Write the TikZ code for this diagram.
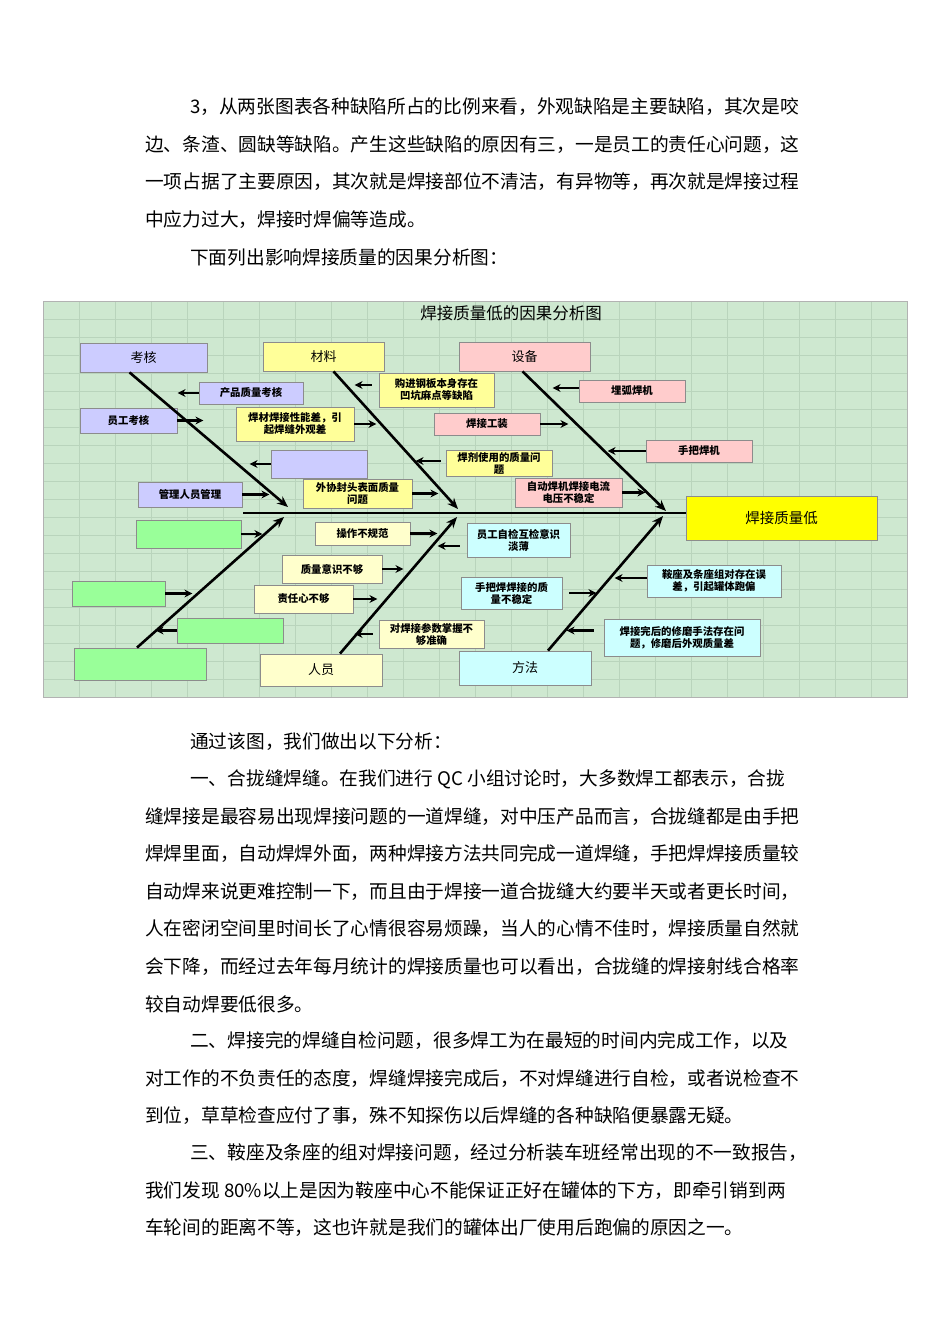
\documentclass[tikz,border=0pt]{standalone}
\usepackage{fontspec}
\setmainfont{Noto Sans CJK SC}
\usetikzlibrary{arrows.meta}
\definecolor{bgg}{RGB}{206,232,208}
\definecolor{gridg}{RGB}{185,212,188}
\definecolor{lav}{RGB}{204,204,255}
\definecolor{yel}{RGB}{255,255,153}
\definecolor{pnk}{RGB}{255,204,204}
\definecolor{lyel}{RGB}{255,255,204}
\definecolor{cya}{RGB}{204,255,255}
\definecolor{grn}{RGB}{153,255,153}
\definecolor{yy}{RGB}{255,255,0}
\newcommand\catf{\mdseries\fontsize{13}{14}\selectfont}
\newcommand\mybox[7]{\node[bx,fill=#6,minimum width={#3-#1},minimum height={#4-#2}] (#5) at ({(#1+#3)/2},{(#2+#4)/2}) {#7};}
\begin{document}
\begin{tikzpicture}[x=1pt,y=-1pt,
  para/.style={anchor=west,inner sep=0pt,font=\fontsize{18.7}{18}\selectfont},
  bx/.style={draw=black!45,line width=0.8pt,inner sep=1pt,align=center,font=\bfseries\fontsize{10.4}{12}\selectfont},
  bone/.style={line width=2.6pt,-{Stealth[length=11pt,width=9pt]}},
  arr/.style={line width=2.4pt,-{Stealth[length=8pt,width=8pt]}}]
\useasboundingbox[fill=white] (0,0) rectangle (950,1344);
% paragraphs
\node[para] (t1) at (190,107) {3，从两张图表各种缺陷所占的比例来看，外观缺陷是主要缺陷，其次是咬};
\node[para] (t2) at (145,145) {边、条渣、圆缺等缺陷。产生这些缺陷的原因有三，一是员工的责任心问题，这};
\node[para] (t3) at (145,182) {一项占据了主要原因，其次就是焊接部位不清洁，有异物等，再次就是焊接过程};
\node[para] (t4) at (145,220) {中应力过大，焊接时焊偏等造成。};
\node[para] (t5) at (190,257) {下面列出影响焊接质量的因果分析图：};
\node[para] (u1) at (190,742) {通过该图，我们做出以下分析：};
\node[para] (u2) at (190,779) {一、合拢缝焊缝。在我们进行 QC 小组讨论时，大多数焊工都表示，合拢};
\node[para] (u3) at (145,817) {缝焊接是最容易出现焊接问题的一道焊缝，对中压产品而言，合拢缝都是由手把};
\node[para] (u4) at (145,854) {焊焊里面，自动焊焊外面，两种焊接方法共同完成一道焊缝，手把焊焊接质量较};
\node[para] (u5) at (145,892) {自动焊来说更难控制一下，而且由于焊接一道合拢缝大约要半天或者更长时间，};
\node[para] (u6) at (145,929) {人在密闭空间里时间长了心情很容易烦躁，当人的心情不佳时，焊接质量自然就};
\node[para] (u7) at (145,967) {会下降，而经过去年每月统计的焊接质量也可以看出，合拢缝的焊接射线合格率};
\node[para] (u8) at (145,1004) {较自动焊要低很多。};
\node[para] (v1) at (190,1041) {二、焊接完的焊缝自检问题，很多焊工为在最短的时间内完成工作，以及};
\node[para] (v2) at (145,1079) {对工作的不负责任的态度，焊缝焊接完成后，不对焊缝进行自检，或者说检查不};
\node[para] (v3) at (145,1116) {到位，草草检查应付了事，殊不知探伤以后焊缝的各种缺陷便暴露无疑。};
\node[para] (w1) at (190,1153) {三、鞍座及条座的组对焊接问题，经过分析装车班经常出现的不一致报告，};
\node[para] (w2) at (145,1191) {我们发现 80\%以上是因为鞍座中心不能保证正好在罐体的下方，即牵引销到两};
\node[para] (w3) at (145,1228) {车轮间的距离不等，这也许就是我们的罐体出厂使用后跑偏的原因之一。};
% diagram background
\fill[bgg] (43,301) rectangle (907,697);
\foreach \gx in {79,115,...,907} \draw[gridg,line width=0.6pt] (\gx,301) -- (\gx,697);
\foreach \gy in {319,337,...,697} \draw[gridg,line width=0.6pt] (43,\gy) -- (907,\gy);
\draw[black!30] (43,301) rectangle (907,697);
\node[font=\fontsize{16.5}{18}\selectfont] (title) at (511,313) {焊接质量低的因果分析图};
% boxes
\mybox{80}{343}{207}{372}{kh}{lav}{\catf 考核}
\mybox{263}{342}{384}{371}{cl}{yel}{\catf 材料}
\mybox{459}{342}{590}{371}{sb}{pnk}{\catf 设备}
\mybox{199}{382}{303}{404}{pz}{lav}{产品质量考核}
\mybox{80}{408}{177}{433}{yg}{lav}{员工考核}
\mybox{379}{373}{494}{407}{gj}{yel}{购进钢板本身存在\\凹坑麻点等缺陷}
\mybox{236}{407}{354}{441}{hc}{yel}{焊材焊接性能差，引\\起焊缝外观差}
\mybox{434}{413}{540}{435}{gz}{pnk}{焊接工装}
\mybox{579}{380}{685}{402}{mh}{pnk}{埋弧焊机}
\mybox{271}{450}{367}{478}{e1}{lav}{}
\mybox{446}{450}{552}{476}{hj}{yel}{焊剂使用的质量问\\题}
\mybox{646}{440}{752}{462}{sh}{pnk}{手把焊机}
\mybox{138}{482}{242}{507}{gl}{lav}{管理人员管理}
\mybox{303}{479}{412}{508}{wx}{yel}{外协封头表面质量\\问题}
\mybox{515}{478}{622}{507}{zd}{pnk}{自动焊机焊接电流\\电压不稳定}
\node[bx,fill=yy,minimum width=191,minimum height=44,font=\fontsize{14.5}{16}\selectfont] (hd) at (781.5,518) {焊接质量低};
\mybox{136}{520}{241}{548}{g1}{grn}{}
\mybox{315}{522}{410}{545}{cz}{lyel}{操作不规范}
\mybox{467}{523}{570}{557}{zj}{cya}{员工自检互检意识\\淡薄}
\mybox{282}{555}{382}{583}{zl}{lyel}{质量意识不够}
\mybox{72}{581}{165}{606}{g2}{grn}{}
\mybox{254}{585}{353}{613}{zr}{lyel}{责任心不够}
\mybox{461}{577}{562}{609}{sb2}{cya}{手把焊焊接的质\\量不稳定}
\mybox{647}{565}{781}{597}{az}{cya}{鞍座及条座组对存在误\\差，引起罐体跑偏}
\mybox{177}{618}{283}{643}{g3}{grn}{}
\mybox{379}{620}{484}{648}{dh}{lyel}{对焊接参数掌握不\\够准确}
\mybox{604}{619}{760}{656}{xm}{cya}{焊接完后的修磨手法存在问\\题，修磨后外观质量差}
\mybox{74}{648}{206}{680}{g4}{grn}{}
\mybox{260}{654}{382}{686}{ry}{lyel}{\catf 人员}
\mybox{459}{651}{591}{685}{ff}{cya}{\catf 方法}
% spine and bones
\coordinate (s0) at (243,513);
\draw[line width=2.6pt] (s0) -- (hd.west |- s0);
\coordinate (b1) at (288,507); \coordinate (b2) at (458,509); \coordinate (b3) at (666,511);
\coordinate (c1) at (284,517); \coordinate (c2) at (457,517); \coordinate (c3) at (663,516);
\draw[bone] (kh.south) ++(-14,0) -- (b1);
\draw[bone] (cl.south) ++(10,0) -- (b2);
\draw[bone] (sb.south) ++(-2,0) -- (b3);
\draw[bone] (g4.north) ++(-3,0) -- (c1);
\draw[bone] (ry.north) ++(19,0) -- (c2);
\draw[bone] (ff.north) ++(23,0) -- (c3);
% small arrows
\draw[arr] (pz.west) -- ++(-21,0);
\draw[arr] (yg.east) -- ++(26,0);
\draw[arr] (e1.west) -- ++(-21,0);
\draw[arr] (gl.east) -- ++(27,0);
\draw[arr] (g1.east) -- ++(21,0);
\draw[arr] (g2.east) -- ++(27,0);
\draw[arr] (g3.west) -- ++(-21,0);
\draw[arr] (gj.west) ++(-7,-5) -- ++(-17,0);
\draw[arr] (hc.east) -- ++(22,0);
\draw[arr] (hj.west) ++(-5,-2) -- ++(-25,0);
\draw[arr] (wx.east) -- ++(26,0);
\draw[arr] (cz.east) -- ++(27,0);
\draw[arr] (zl.east) -- ++(21,0);
\draw[arr] (zr.east) -- ++(24,0);
\draw[arr] (dh.west) ++(-6,0) -- ++(-18,0);
\draw[arr] (zj.west) ++(-7,6) -- ++(-22,0);
\draw[arr] (mh.west) ++(0,-3) -- ++(-26,0);
\draw[arr] (gz.east) -- ++(28,0);
\draw[arr] (sh.west) -- ++(-38,0);
\draw[arr] (zd.east) -- ++(23,0);
\draw[arr] (sb2.east) ++(7,0) -- ++(27,0);
\draw[arr] (az.west) ++(0,-3) -- ++(-32,0);
\draw[arr] (xm.west) ++(-10,-7) -- ++(-27,0);
\end{tikzpicture}
\end{document}
